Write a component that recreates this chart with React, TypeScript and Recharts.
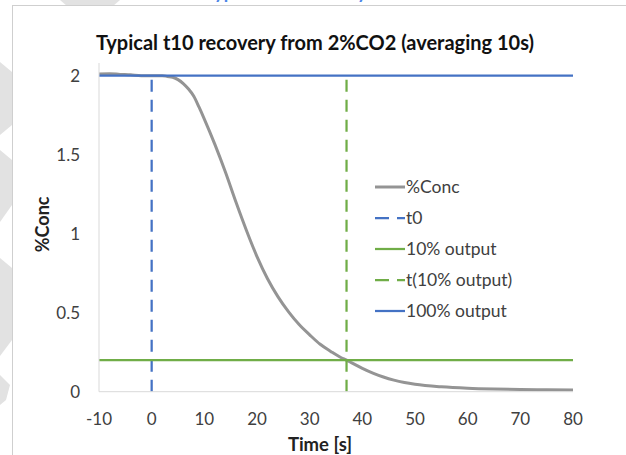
import React from 'react';
import { LineChart, Line, XAxis, YAxis, Legend } from 'recharts';

// ---- data ----
const concTime = [-10, -8, -6, -4, -2, 0, 2, 3, 4, 5, 6, 7, 8, 9, 10, 12, 14, 16, 18, 20, 22, 24, 26, 28, 30, 32, 34, 36, 37, 38, 40, 42, 44, 46, 48, 50, 55, 60, 65, 70, 75, 80];
const concValues = [2.01, 2.012, 2.008, 2.005, 2.0, 2.0, 2.0, 1.995, 1.99, 1.975, 1.95, 1.915, 1.87, 1.8, 1.725, 1.565, 1.39, 1.2, 1.02, 0.855, 0.715, 0.6, 0.505, 0.425, 0.36, 0.3, 0.255, 0.215, 0.2, 0.182, 0.148, 0.118, 0.093, 0.073, 0.058, 0.047, 0.031, 0.022, 0.017, 0.014, 0.012, 0.01];
const t0Time = 0;
const t10Time = 37;
const level10 = 0.2;
const level100 = 2;
const xMin = -10;
const xMax = 80;
const yMax = 2.08;
const xTicks = [-10, 0, 10, 20, 30, 40, 50, 60, 70, 80];
const yTicks = [0, 0.5, 1, 1.5, 2];

const seriesNames = ['%Conc', 't0', '10% output', 't(10% output)', '100% output'];
const seriesColors = ['#949494', '#4472C4', '#70AD47', '#70AD47', '#4472C4'];
const seriesDashed = [false, true, false, true, false];

const concData = concTime.map((t, i) => ({ x: t, y: concValues[i] }));
const t0Data = [{ x: t0Time, y: 0 }, { x: t0Time, y: level100 }];
const t10Data = [{ x: t10Time, y: 0 }, { x: t10Time, y: level100 }];
const out10Data = [{ x: xMin, y: level10 }, { x: xMax, y: level10 }];
const out100Data = [{ x: xMin, y: level100 }, { x: xMax, y: level100 }];

const FONT = 'Lato, "Open Sans", sans-serif';
const DASH = '12 8';

const renderLegend = () => (
  <div style={{ fontFamily: FONT, fontSize: 17.5, color: '#404040', textAlign: 'left' }}>
    {seriesNames.map((n, i) => (
      <div key={n} style={{ display: 'flex', alignItems: 'center', height: 31.2 }}>
        <svg width={34} height={10} style={{ display: 'block' }}>
          <line x1={3} y1={5} x2={33} y2={5} stroke={seriesColors[i]} strokeWidth={i === 0 ? 3 : 2.25}
            strokeDasharray={seriesDashed[i] ? '14 8' : undefined} />
        </svg>
        <span style={{ lineHeight: '18px', whiteSpace: 'nowrap' }}>{n}</span>
      </div>
    ))}
  </div>
);

const XLabel = (props: any) => {
  const vb = props.viewBox || {};
  return (
    <text x={vb.x + vb.width / 2 - 16} y={451} textAnchor="middle" fontFamily={FONT} fontSize={18.5} fontWeight="bold" fill="#222">
      Time [s]
    </text>
  );
};

const YLabel = (props: any) => {
  const vb = props.viewBox || {};
  const cy = vb.y + vb.height / 2 - 3;
  return (
    <text x={42} y={cy} textAnchor="middle" dominantBaseline="central" transform={`rotate(-90, 42, ${cy})`}
      fontFamily={FONT} fontSize={18} fontWeight="bold" fill="#222">
      %Conc
    </text>
  );
};

const Watermark = () => (
  <svg width={626} height={455} style={{ position: 'absolute', left: 0, top: 0 }}>
    <g fill="#e2e2e2">
      <polygon points="60,0 120,0 113,6 67,6" />
      <polygon points="0,62 12,72 12,125 0,135" />
      <polygon points="0,150 12,160 12,205 0,222" />
      <polygon points="0,258 12,268 12,340 0,356" />
      <polygon points="0,375 10,385 6,400 0,405" />
    </g>
  </svg>
);

export default function App() {
  return (
    <div style={{ position: 'absolute', left: 0, top: 0, width: 626, height: 455, overflow: 'hidden', background: '#fff' }}>
      <Watermark />
      <div style={{ position: 'absolute', left: 12, top: 5, width: 700, height: 500, border: '1px solid #cfcfcf', background: '#fff' }} />
      <div style={{ position: 'absolute', left: 205, top: -19, fontFamily: FONT, fontSize: 18, fontWeight: 'bold', color: '#4A86E8', whiteSpace: 'nowrap', lineHeight: '22px' }}>
        Typical t10 recovery
      </div>
      <div style={{ position: 'absolute', left: 0, width: 630, top: 30, textAlign: 'center', fontFamily: FONT, fontSize: 20, fontWeight: 'bold', color: '#111', whiteSpace: 'nowrap', lineHeight: '24px' }}>
        Typical t10 recovery from 2%CO2 (averaging 10s)
      </div>
      <div style={{ position: 'absolute', left: 0, top: 0 }}>
        <LineChart width={626} height={455} margin={{ top: 63, right: 53, bottom: 0, left: 0 }}>
          <XAxis dataKey="x" type="number" domain={[xMin, xMax]} ticks={xTicks} allowDataOverflow
            axisLine={{ stroke: '#d9d9d9' }} tickLine={false} tickSize={0} tickMargin={21} height={63.3}
            tick={{ fontFamily: FONT, fontSize: 17, fill: '#404040' }} label={<XLabel />} />
          <YAxis type="number" domain={[0, yMax]} ticks={yTicks} allowDataOverflow width={99}
            axisLine={{ stroke: '#d9d9d9' }} tickLine={false} tickSize={0} tickMargin={19}
            tick={{ fontFamily: FONT, fontSize: 17, fill: '#404040' }} label={<YLabel />} />
          <Legend layout="vertical" verticalAlign="middle" align="center" content={renderLegend}
            wrapperStyle={{ position: 'absolute', left: 372, top: 171, width: 180 }} />
          <Line data={concData} dataKey="y" name={seriesNames[0]} type="monotone" stroke={seriesColors[0]} strokeWidth={3} dot={false} isAnimationActive={false} />
          <Line data={t0Data} dataKey="y" name={seriesNames[1]} type="linear" stroke={seriesColors[1]} strokeWidth={2.25} strokeDasharray={DASH} dot={false} isAnimationActive={false} />
          <Line data={out10Data} dataKey="y" name={seriesNames[2]} type="linear" stroke={seriesColors[2]} strokeWidth={2.25} dot={false} isAnimationActive={false} />
          <Line data={t10Data} dataKey="y" name={seriesNames[3]} type="linear" stroke={seriesColors[3]} strokeWidth={2.25} strokeDasharray={DASH} dot={false} isAnimationActive={false} />
          <Line data={out100Data} dataKey="y" name={seriesNames[4]} type="linear" stroke={seriesColors[4]} strokeWidth={2.25} dot={false} isAnimationActive={false} />
        </LineChart>
      </div>
    </div>
  );
}
